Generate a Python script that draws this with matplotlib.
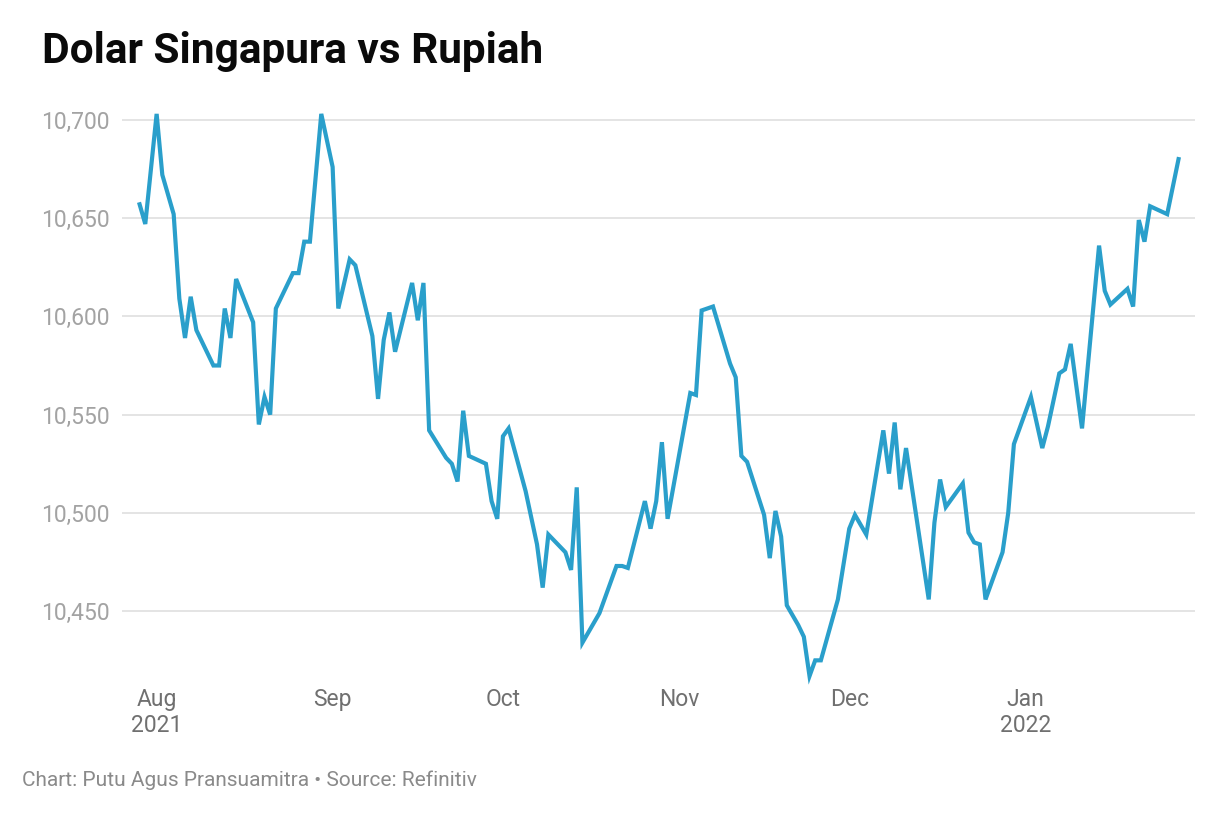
import matplotlib
matplotlib.use("Agg")
import matplotlib.pyplot as plt
import numpy as np
import pandas as pd

# ------------------------------------------------------------
# Data: SGD/IDR
# ------------------------------------------------------------
dates = [
    "2021-07-29", "2021-07-30", "2021-08-01", "2021-08-02", "2021-08-04",
    "2021-08-05", "2021-08-06", "2021-08-07", "2021-08-08", "2021-08-11",
    "2021-08-12", "2021-08-13", "2021-08-14", "2021-08-15", "2021-08-18",
    "2021-08-19", "2021-08-20", "2021-08-21", "2021-08-22", "2021-08-25",
    "2021-08-26", "2021-08-27", "2021-08-28", "2021-08-30", "2021-09-01",
    "2021-09-02", "2021-09-04", "2021-09-05", "2021-09-08", "2021-09-09",
    "2021-09-10", "2021-09-11", "2021-09-12", "2021-09-15", "2021-09-16",
    "2021-09-17", "2021-09-18", "2021-09-21", "2021-09-22", "2021-09-23",
    "2021-09-24", "2021-09-25", "2021-09-28", "2021-09-29", "2021-09-30",
    "2021-10-01", "2021-10-02", "2021-10-05", "2021-10-07", "2021-10-08",
    "2021-10-09", "2021-10-12", "2021-10-13", "2021-10-14", "2021-10-15",
    "2021-10-18", "2021-10-21", "2021-10-22", "2021-10-23", "2021-10-26",
    "2021-10-27", "2021-10-28", "2021-10-29", "2021-10-30", "2021-11-03",
    "2021-11-04", "2021-11-05", "2021-11-07", "2021-11-10", "2021-11-11",
    "2021-11-12", "2021-11-13", "2021-11-16", "2021-11-17", "2021-11-18",
    "2021-11-19", "2021-11-20", "2021-11-22", "2021-11-23", "2021-11-24",
    "2021-11-25", "2021-11-26", "2021-11-29", "2021-12-01", "2021-12-02",
    "2021-12-04", "2021-12-07", "2021-12-08", "2021-12-09", "2021-12-10",
    "2021-12-11", "2021-12-15", "2021-12-16", "2021-12-17", "2021-12-18",
    "2021-12-21", "2021-12-22", "2021-12-23", "2021-12-24", "2021-12-25",
    "2021-12-28", "2021-12-29", "2021-12-30", "2022-01-02", "2022-01-04",
    "2022-01-05", "2022-01-07", "2022-01-08", "2022-01-09", "2022-01-11",
    "2022-01-14", "2022-01-15", "2022-01-16", "2022-01-19", "2022-01-20",
    "2022-01-21", "2022-01-22", "2022-01-23", "2022-01-26", "2022-01-28",
]
rate = [
    10657, 10647, 10703, 10672, 10652,
    10609, 10589, 10610, 10593, 10575,
    10575, 10604, 10589, 10619, 10597,
    10545, 10559, 10550, 10604, 10622,
    10622, 10638, 10638, 10703, 10676,
    10604, 10629, 10626, 10590, 10558,
    10588, 10602, 10582, 10617, 10598,
    10617, 10542, 10528, 10525, 10516,
    10552, 10529, 10525, 10506, 10497,
    10539, 10543, 10511, 10484, 10462,
    10489, 10480, 10471, 10513, 10434,
    10449, 10473, 10473, 10472, 10506,
    10492, 10506, 10536, 10497, 10561,
    10560, 10603, 10605, 10576, 10569,
    10529, 10526, 10499, 10477, 10501,
    10488, 10453, 10443, 10437, 10417,
    10425, 10425, 10456, 10492, 10499,
    10489, 10542, 10520, 10546, 10512,
    10533, 10456, 10495, 10517, 10503,
    10515, 10490, 10485, 10484, 10456,
    10480, 10500, 10535, 10559, 10533,
    10544, 10571, 10573, 10586, 10543,
    10636, 10613, 10606, 10614, 10605,
    10649, 10638, 10656, 10652, 10680,
]

y_ticks = [10450, 10500, 10550, 10600, 10650, 10700]
month_ticks = ["2021-08-01", "2021-09-01", "2021-10-01",
               "2021-11-01", "2021-12-01", "2022-01-01"]
month_labels = ["Aug\n2021", "Sep", "Oct", "Nov", "Dec", "Jan\n2022"]

title = "Dolar Singapura vs Rupiah"
footer = "Chart: Putu Agus Pransuamitra \u2022 Source: Refinitiv"

# ------------------------------------------------------------
# Figure
# ------------------------------------------------------------
plt.rcParams["font.family"] = ["Roboto", "DejaVu Sans"]

W, H = 1224, 836
fig = plt.figure(figsize=(W / 100, H / 100), dpi=100)

# axes box in pixels (left, top, right, bottom)
left_px, top_px, right_px, bottom_px = 122, 108, 1195, 680
ax = fig.add_axes([left_px / W, 1 - bottom_px / H,
                   (right_px - left_px) / W, (bottom_px - top_px) / H])

x = pd.to_datetime(dates)
ax.plot(x, rate, color="#2a9fcb", lw=3.0, solid_joinstyle="miter",
        clip_on=False, zorder=3)

aug1 = pd.Timestamp("2021-08-01")
ax.set_xlim(aug1 - pd.Timedelta(days=6.1), aug1 + pd.Timedelta(days=182.9))
ax.set_ylim(10415, 10706)

ax.set_yticks(y_ticks)
ax.set_yticklabels([f"{v:,}" for v in y_ticks])
ax.set_xticks(pd.to_datetime(month_ticks))
ax.set_xticklabels(month_labels, linespacing=1.15)

ax.grid(axis="y", color="#e2e2e2", lw=1.3)
ax.grid(axis="x", visible=False)
ax.set_axisbelow(True)
for s in ax.spines.values():
    s.set_visible(False)

ax.tick_params(axis="y", length=0, pad=9, labelsize=16.5, labelcolor="#a3a3a3")
ax.tick_params(axis="x", length=0, pad=6, labelsize=16.5, labelcolor="#707070")
for lab in ax.get_xticklabels():
    lab.set_verticalalignment("top")

fig.text(42 / W, 1 - 63 / H, title, fontsize=30.5, fontweight="bold",
         color="#0a0a0a", va="baseline", ha="left")
fig.text(22 / W, 1 - 786 / H, footer, fontsize=15, color="#8a8a8a",
         va="baseline", ha="left")

fig.savefig("out.png", dpi=100, facecolor="white")
